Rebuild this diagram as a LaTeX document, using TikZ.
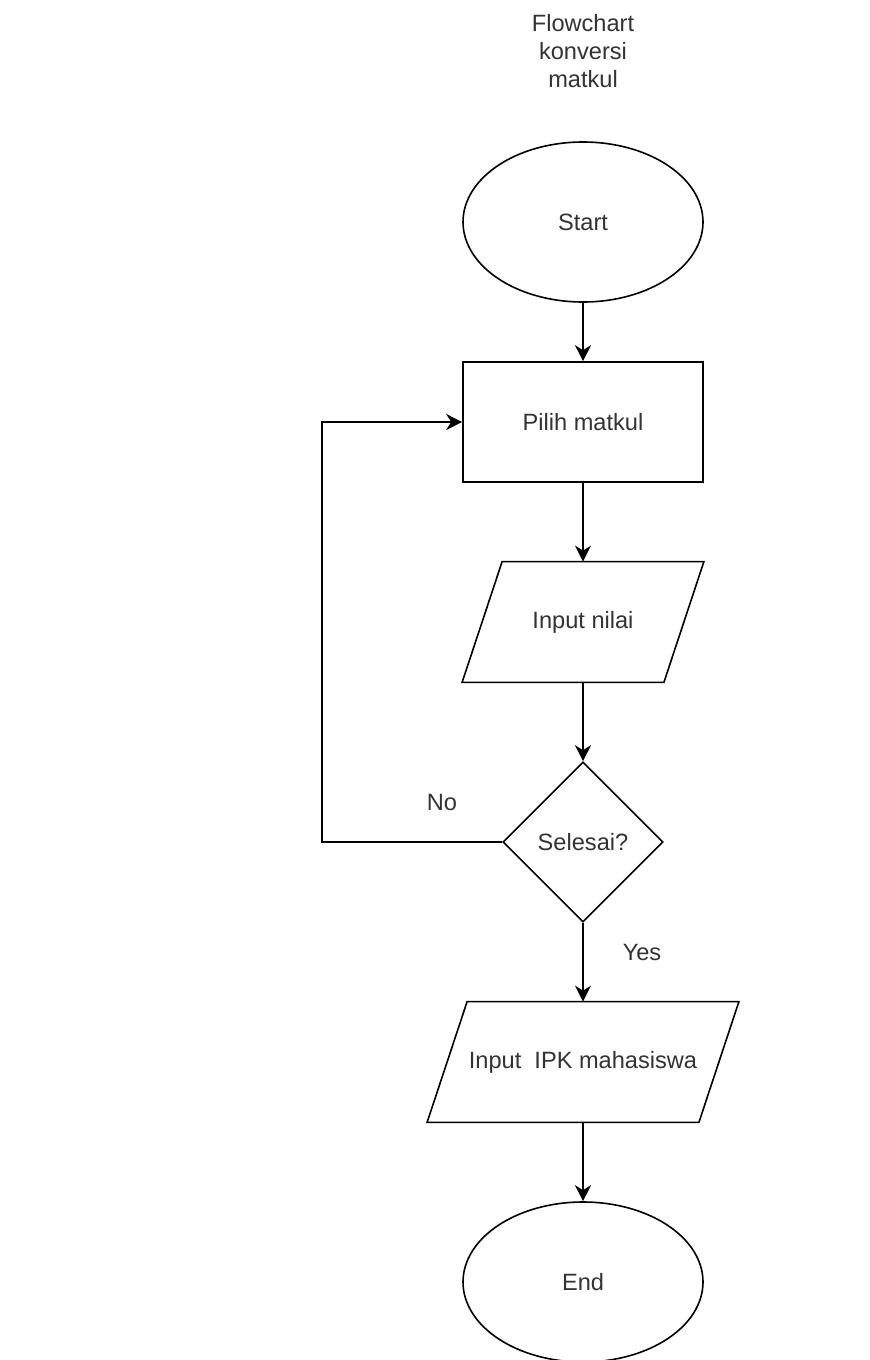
\documentclass[tikz,border=0pt]{standalone}
\usepackage{fontspec}
\setmainfont{Liberation Sans}
\usetikzlibrary{shapes.geometric,arrows.meta}
\tikzset{
	txt/.style={font=\fontsize{11.8}{14}\selectfont,align=center,text=black!80},
	term/.style={txt,draw,thick,ellipse,inner sep=0pt,minimum width=120pt,minimum height=80pt},
	proc/.style={txt,draw,thick,rectangle,inner sep=0pt,minimum width=120pt,minimum height=60pt},
	io/.style={txt,rectangle,inner sep=0pt,minimum height=60pt},
	decide/.style={txt,draw,thick,diamond,aspect=1,inner sep=0pt,minimum width=80pt,minimum height=80pt},
	flow/.style={thick,-{Stealth[length=8pt,width=8pt,inset=2.5pt]}}
}
\begin{document}
\begin{tikzpicture}[x=0.5pt,y=-0.5pt]
		\fill[white] (0,0) rectangle (870,1360);
		\useasboundingbox (0,0) rectangle (870,1360);
		\node[txt] (title) at (583,51) {Flowchart\\konversi\\matkul};
		\node[term] (start) at (583,222) {Start};
		\node[proc] (pick) at (583,422) {Pilih matkul};
		\node[io,minimum width=120.5pt] (nilai) at (583,622) {Input nilai};
		\node[decide] (sel) at (583,842) {Selesai?};
		\node[io,minimum width=155.5pt] (ipk) at (583,1062) {Input\ \ IPK mahasiswa};
		\node[term] (end) at (583,1282) {End};
		% parallelograms round the two input nodes
		\draw[thick] ([xshift=20pt]nilai.north west) -- (nilai.north east) -- ([xshift=-20pt]nilai.south east) -- (nilai.south west) -- cycle;
		\draw[thick] ([xshift=20pt]ipk.north west) -- (ipk.north east) -- ([xshift=-20pt]ipk.south east) -- (ipk.south west) -- cycle;
		\coordinate (back) at (322,842);
		\draw[flow] (start) -- (pick);
		\draw[flow] (pick) -- (nilai);
		\draw[flow] (nilai) -- (sel);
		\draw[flow] (sel) -- (ipk);
		\draw[flow] (ipk) -- (end);
		\draw[flow] (sel.west) -- (back) |- (pick.west);
		\node[txt] (no) at (442,802) {No};
		\node[txt] (yes) at (642,952) {Yes};
	\end{tikzpicture}
\end{document}
